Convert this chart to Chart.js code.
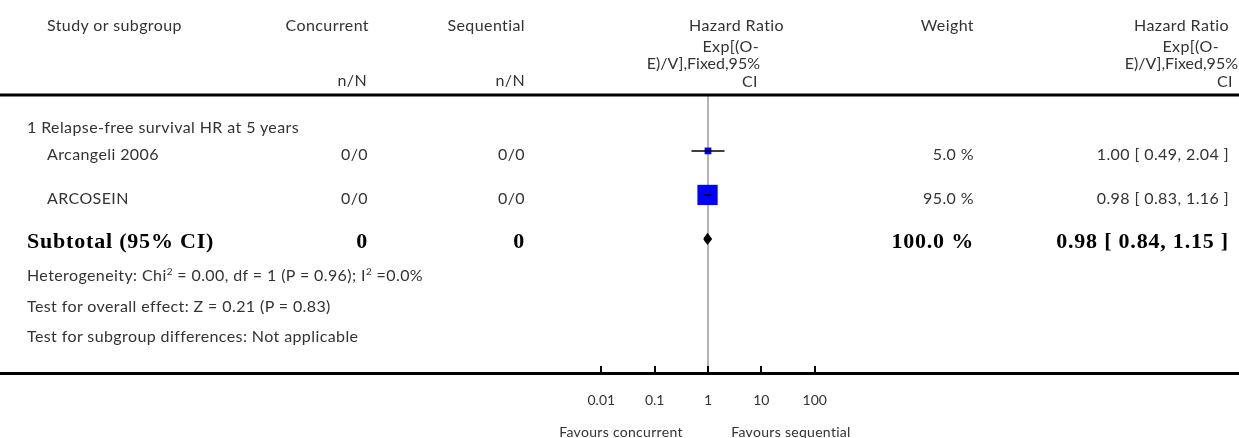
<!DOCTYPE html>
<html>
<head>
<meta charset="utf-8">
<script src="https://cdn.jsdelivr.net/npm/chart.js@4.4.1/dist/chart.umd.min.js"></script>
<style>
html, body { margin: 0; padding: 0; background: #fff; }
#wrap { position: relative; width: 1239px; height: 438px; overflow: hidden; font-family: Lato, sans-serif; color: #333; }
#chartBox { position: absolute; left: 0; top: 0; width: 1239px; height: 438px; }
.t { position: absolute; white-space: nowrap; font-size: 16px; line-height: 18px; letter-spacing: 0.4px; }
.b { font-family: "Liberation Serif", serif; font-weight: bold; font-size: 22px; line-height: 22px; letter-spacing: 0.8px; color: #000; }
.s { font-size: 14px; letter-spacing: 0.3px; }
.n { letter-spacing: 0; }
sup { font-size: 10px; line-height: 0; }
</style>
</head>
<body>
<div id="wrap">
  <div id="chartBox"><canvas id="forest"></canvas></div>
</div>
<script>
// data
var groupTitle = '1 Relapse-free survival HR at 5 years';
var studies = ['Arcangeli 2006', 'ARCOSEIN'];
var concurrentN = ['0/0', '0/0'];
var sequentialN = ['0/0', '0/0'];
var hr = [1.00, 0.98];
var hrLow = [0.49, 0.83];
var hrHigh = [2.04, 1.16];
var weights = [5.0, 95.0];

var subtotalHr = 0.98, subtotalLow = 0.84, subtotalHigh = 1.15;
var subtotalWeight = 100.0;
var subtotalConcurrent = 0, subtotalSequential = 0;

var footLines = [
	'Heterogeneity: Chi<sup>2</sup> = 0.00, df = 1 (P = 0.96); I<sup>2</sup> =0.0%',
	'Test for overall effect: Z = 0.21 (P = 0.83)',
	'Test for subgroup differences: Not applicable'
];

var tickValues = [0.01, 0.1, 1, 10, 100];
var tickLabels = ['0.01', '0.1', '1', '10', '100'];
var favoursLeft = 'Favours concurrent';
var favoursRight = 'Favours sequential';

// layout
var W = 1239;
var X_MIN = -13.271, X_MAX = 9.953;   // log10 range across the full width
var Y_MIN = -0.27, Y_MAX = 6.045;     // row units, row r sits at 107 + 44r px
var studyRows = [1, 2];
var subtotalRow = 3;

function fmt(v) { return v.toFixed(2); }
function ciText(h, l, u) { return fmt(h) + ' [ ' + fmt(l) + ', ' + fmt(u) + ' ]'; }

// text layer
var $wrap = document.getElementById('wrap');
function put(html, x, y, align, cls) {
	var d = document.createElement('div');
	d.className = 't' + (cls ? ' ' + cls : '');
	d.innerHTML = html;
	var lh = cls && cls.indexOf('b') >= 0 ? 22 : 18;
	d.style.top = (y - lh / 2) + 'px';
	if (align == 'right') d.style.right = (W - x) + 'px';
	else if (align == 'center') { d.style.left = x + 'px'; d.style.transform = 'translateX(-50%)'; }
	else d.style.left = x + 'px';
	$wrap.appendChild(d);
}

// header
put('Study or subgroup', 47, 25, 'left');
put('Concurrent', 369, 25, 'right');
put('n/N', 367, 80, 'right');
put('Sequential', 525, 25, 'right');
put('n/N', 525, 80, 'right');
put('Hazard Ratio', 784, 25, 'right');
put('Exp[(O-', 759, 46, 'right');
put('E)/V],Fixed,95%', 760, 63, 'right', 'n');
put('CI', 758, 81, 'right');
put('Weight', 974, 25, 'right');
put('Hazard Ratio', 1229, 25, 'right');
put('Exp[(O-', 1219, 46, 'right');
put('E)/V],Fixed,95%', 1238, 63, 'right', 'n');
put('CI', 1233, 81, 'right');

// rows
put(groupTitle, 27, 127, 'left');
for (var i = 0; i < studies.length; i++) {
	var y = 107 + 44 * studyRows[i] + 3;
	put(studies[i], 47, y, 'left');
	put(concurrentN[i], 368, y, 'right');
	put(sequentialN[i], 525, y, 'right');
	put(weights[i].toFixed(1) + ' %', 974, y, 'right');
	put(ciText(hr[i], hrLow[i], hrHigh[i]), 1229, y, 'right');
}
var ySub = 107 + 44 * subtotalRow + 2;
put('Subtotal (95% CI)', 27, ySub, 'left', 'b');
put(String(subtotalConcurrent), 368, ySub, 'right', 'b');
put(String(subtotalSequential), 525, ySub, 'right', 'b');
put(subtotalWeight.toFixed(1) + ' %', 974, ySub, 'right', 'b');
put(ciText(subtotalHr, subtotalLow, subtotalHigh), 1229, ySub, 'right', 'b');

put(footLines[0], 27, 275, 'left');
put(footLines[1], 27, 306, 'left');
put(footLines[2], 27, 336, 'left');

put(favoursLeft, 621, 432, 'center', 's');
put(favoursRight, 791, 432, 'center', 's');

// datasets
var lg = Math.log10;
var datasets = [];

// line of no effect
datasets.push({
	type: 'line',
	data: [{x: 0, y: Y_MIN}, {x: 0, y: Y_MAX}],
	borderColor: '#b4b4b4',
	borderWidth: 2,
	pointRadius: 0,
	order: 3
});

// confidence intervals
for (var i = 0; i < studies.length; i++) {
	datasets.push({
		type: 'line',
		data: [{x: lg(hrLow[i]), y: studyRows[i]}, {x: lg(hrHigh[i]), y: studyRows[i]}],
		borderColor: '#000',
		borderWidth: 1.5,
		pointRadius: 0,
		order: 0
	});
}

// study boxes, side grows with weight
datasets.push({
	type: 'scatter',
	data: studies.map(function (s, i) { return {x: lg(hr[i]), y: studyRows[i]}; }),
	pointStyle: 'rect',
	pointRadius: weights.map(function (w) { return (6 + w * 0.15) / Math.SQRT2; }),
	backgroundColor: '#0000ff',
	borderWidth: 0,
	order: 1
});

// subtotal diamond
var dh = 0.11;
datasets.push({
	type: 'line',
	data: [
		{x: lg(subtotalLow), y: subtotalRow},
		{x: lg(subtotalHr), y: subtotalRow - dh},
		{x: lg(subtotalHigh), y: subtotalRow},
		{x: lg(subtotalHr), y: subtotalRow + dh},
		{x: lg(subtotalLow), y: subtotalRow}
	],
	borderColor: '#000',
	backgroundColor: '#000',
	borderWidth: 1.5,
	fill: 'shape',
	pointRadius: 0,
	tension: 0,
	order: 0
});

// header rule and upward tick marks
var rules = {
	id: 'rules',
	afterDraw: function (chart) {
		var ctx = chart.ctx, area = chart.chartArea, x = chart.scales.x;
		ctx.save();
		ctx.strokeStyle = '#000';
		ctx.lineWidth = 3;
		ctx.beginPath();
		ctx.moveTo(0, area.top);
		ctx.lineTo(chart.width, area.top);
		ctx.stroke();
		ctx.lineWidth = 2;
		x.ticks.forEach(function (t) {
			var px = Math.round(x.getPixelForValue(t.value));
			ctx.beginPath();
			ctx.moveTo(px, area.bottom);
			ctx.lineTo(px, area.bottom - 7);
			ctx.stroke();
		});
		ctx.restore();
	}
};

var forest = new Chart(document.getElementById('forest'), {
	type: 'line',
	data: { datasets: datasets },
	plugins: [rules],
	options: {
		responsive: true,
		maintainAspectRatio: false,
		animation: false,
		events: [],
		layout: { autoPadding: false, padding: { top: 95, left: 0, right: 0, bottom: 0 } },
		plugins: { legend: { display: false }, tooltip: { enabled: false } },
		scales: {
			x: {
				type: 'linear',
				min: X_MIN,
				max: X_MAX,
				afterBuildTicks: function (s) {
					s.ticks = tickValues.map(function (v) { return {value: lg(v)}; });
				},
				afterFit: function (s) { s.height = 65; },
				ticks: {
					autoSkip: false,
					maxRotation: 0,
					padding: 19,
					color: '#333',
					font: { family: 'Lato', size: 14 },
					callback: function (v) {
						var i = tickValues.indexOf(Math.pow(10, Math.round(v)));
						return i >= 0 ? tickLabels[i] : '';
					}
				},
				grid: { display: true, drawOnChartArea: false, drawTicks: false },
				border: { display: true, color: '#000', width: 3 }
			},
			y: {
				type: 'linear',
				min: Y_MIN,
				max: Y_MAX,
				reverse: true,
				display: false
			}
		}
	}
});
</script>
</body>
</html>
